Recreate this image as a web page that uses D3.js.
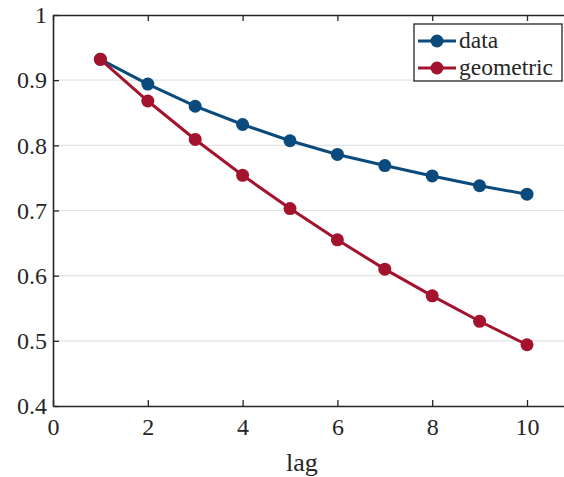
<!DOCTYPE html>
<html>
<head>
<meta charset="utf-8">
<script src="https://cdn.jsdelivr.net/npm/d3@7"></script>
</head>
<body style="margin:0">
<div id="chart"></div>
<script>
// values
let lags = [1, 2, 3, 4, 5, 6, 7, 8, 9, 10];
let dataVals = [0.932, 0.894, 0.860, 0.832, 0.807, 0.786, 0.769, 0.753, 0.738, 0.725];
let geomVals = [0.932, 0.868, 0.809, 0.754, 0.703, 0.655, 0.610, 0.569, 0.530, 0.494];
let xTicks = [0, 2, 4, 6, 8, 10];
let yTicks = [0.4, 0.5, 0.6, 0.7, 0.8, 0.9, 1];
let seriesNames = ["data", "geometric"];
let seriesColors = ["#0b4a7c", "#a4132e"];

let FONT = "Liberation Serif";
let width = 564, height = 477;
let margin = {top: 15, left: 53, bottom: 71};

let svg = d3.select("#chart").append("svg")
    .attr("width", width)
    .attr("height", height)
    .attr("font-family", FONT);

let x = d3.scaleLinear().domain([0, 11]).range([margin.left, margin.left + 11 * 47.4]);
let y = d3.scaleLinear().domain([0.4, 1]).range([height - margin.bottom, margin.top]);

// gridlines
svg.append("g")
    .selectAll("line")
    .data(yTicks.slice(1, -1))
    .enter().append("line")
    .attr("x1", x(0)).attr("x2", width)
    .attr("y1", d => y(d)).attr("y2", d => y(d))
    .attr("stroke", "#e3e3e3")
    .attr("stroke-width", 1.2);

// axes: ticks pointing inward
let xAxis = svg.append("g")
    .attr("transform", `translate(0,${y(0.4)})`)
    .call(d3.axisBottom(x).tickValues(xTicks).tickSizeInner(-6).tickSizeOuter(0).tickPadding(12));
let xTop = svg.append("g")
    .attr("transform", `translate(0,${y(1)})`)
    .call(d3.axisTop(x).tickValues(xTicks).tickSizeInner(-6).tickSizeOuter(0).tickFormat(""));
let yAxis = svg.append("g")
    .attr("transform", `translate(${x(0)},0)`)
    .call(d3.axisLeft(y).tickValues(yTicks).tickSizeInner(-6).tickSizeOuter(0).tickPadding(6)
        .tickFormat(d => d === 1 ? "1" : d3.format(".1f")(d)));

[xAxis, xTop, yAxis].forEach(g => {
    g.attr("font-family", FONT).attr("font-size", 24);
    g.select(".domain").attr("stroke", "#262626").attr("stroke-width", 1.6);
    g.selectAll(".tick line").attr("stroke", "#262626").attr("stroke-width", 1.3);
    g.selectAll("text").attr("fill", "#262626").attr("font-family", FONT).attr("font-size", 24);
});

svg.append("text")
    .attr("x", x(5.25))
    .attr("y", 471)
    .attr("text-anchor", "middle")
    .attr("font-size", 26)
    .attr("font-family", FONT)
    .attr("fill", "#262626")
    .text("lag");

// series
let series = [dataVals, geomVals];
let line = d3.line().x((d, i) => x(lags[i])).y(d => y(d));

series.forEach((vals, s) => {
    let g = svg.append("g");
    g.append("path")
        .datum(vals)
        .attr("d", line)
        .attr("fill", "none")
        .attr("stroke", seriesColors[s])
        .attr("stroke-width", 3);
    g.selectAll("circle")
        .data(vals)
        .enter().append("circle")
        .attr("cx", (d, i) => x(lags[i]))
        .attr("cy", d => y(d))
        .attr("r", 6.5)
        .attr("fill", seriesColors[s]);
});

// legend
let legend = svg.append("g").attr("transform", "translate(414,24)");
legend.append("rect")
    .attr("width", 148).attr("height", 57)
    .attr("fill", "#fff")
    .attr("stroke", "#262626")
    .attr("stroke-width", 1.3);
seriesNames.forEach((name, i) => {
    let row = legend.append("g").attr("transform", `translate(0,${17 + i * 27})`);
    row.append("line")
        .attr("x1", 4).attr("x2", 42)
        .attr("stroke", seriesColors[i]).attr("stroke-width", 3);
    row.append("circle").attr("cx", 23).attr("r", 6.5).attr("fill", seriesColors[i]);
    row.append("text")
        .attr("x", 45).attr("y", 7)
        .attr("font-size", 23.5)
        .attr("font-family", FONT)
        .attr("fill", "#262626")
        .text(name);
});
</script>
</body>
</html>
